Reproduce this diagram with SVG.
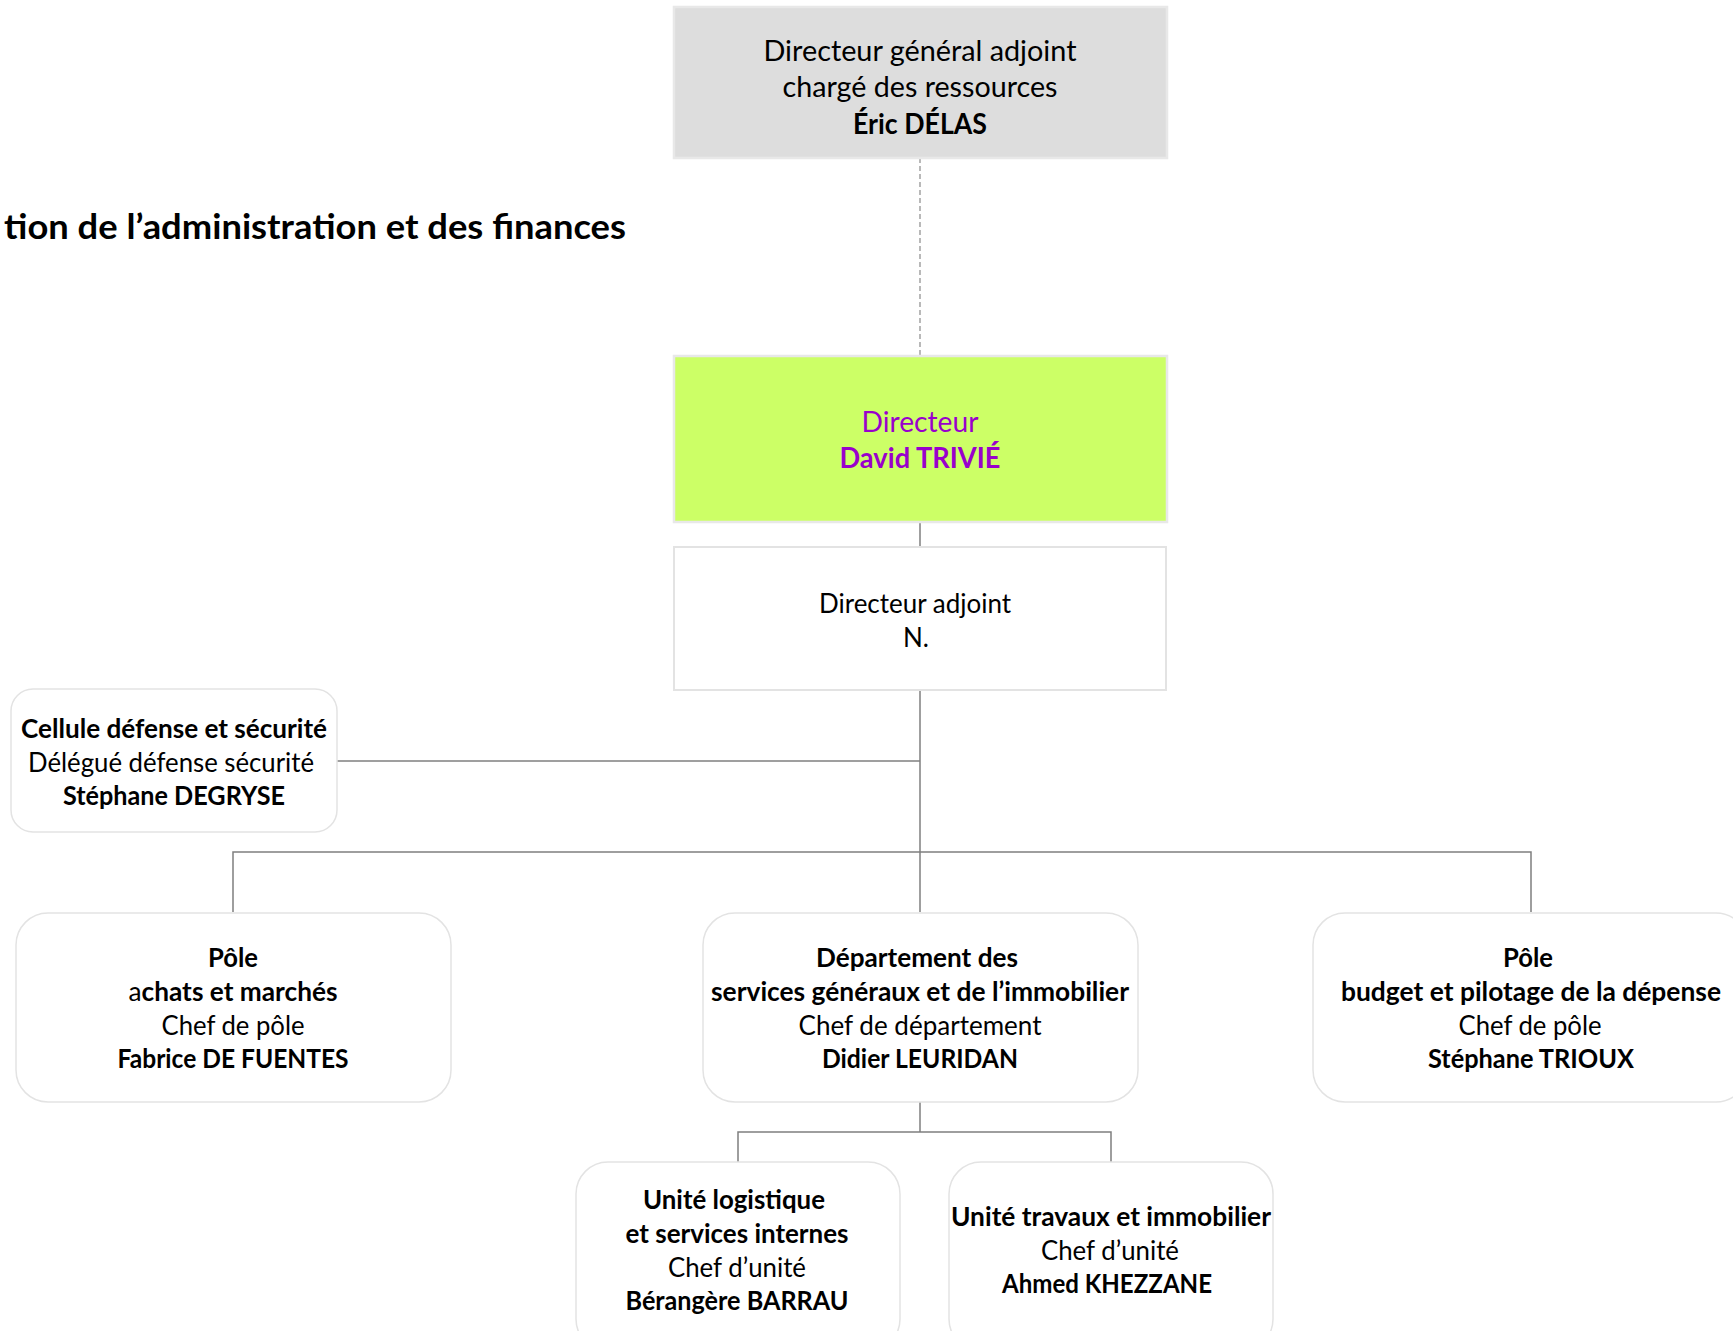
<svg xmlns="http://www.w3.org/2000/svg" width="1733" height="1331" viewBox="0 0 1733 1331">
<style>
text{font-family:Lato,"Open Sans","Liberation Sans",sans-serif;text-anchor:middle;fill:#000}
.s29{font-size:28px}
.s28{font-size:26px}
.b{font-weight:bold}
.n{font-weight:normal}
.p{fill:#9900cc}
.box{fill:#fff;stroke:#e3e3e3;stroke-width:2}
.rbox{fill:#fff;stroke:#e3e3e3;stroke-width:1.5}
.c{stroke:#7f7f7f;stroke-width:1.5;fill:none}
.d{stroke:#8a8a8a;stroke-width:1.2;fill:none;stroke-dasharray:5 3}
</style>
<rect width="1733" height="1331" fill="#fff"/>
<text id="title" x="626" y="239" class="b" style="font-size:35px;text-anchor:end" textLength="622" lengthAdjust="spacingAndGlyphs">tion de l’administration et des finances</text>
<g id="connectors">
<line class="d" x1="920" y1="158" x2="920" y2="356"/>
<line class="c" x1="920" y1="522" x2="920" y2="547"/>
<line class="c" x1="920" y1="690" x2="920" y2="912"/>
<line class="c" x1="337" y1="761" x2="920" y2="761"/>
<polyline class="c" points="233,912 233,852 1531,852 1531,912"/>
<line class="c" x1="920" y1="1102" x2="920" y2="1132"/>
<polyline class="c" points="738,1162 738,1132 1111,1132 1111,1162"/>
</g>
<g id="dga">
<rect x="674" y="7" width="493" height="151" fill="#dddddd" stroke="#e8e8e8" stroke-width="2.5"/>
<text class="s29" x="920" y="61" textLength="313" lengthAdjust="spacingAndGlyphs">Directeur général adjoint</text>
<text class="s29" x="920" y="97" textLength="275" lengthAdjust="spacingAndGlyphs">chargé des ressources</text>
<text class="s29 b" x="920" y="134" textLength="134" lengthAdjust="spacingAndGlyphs">Éric DÉLAS</text>
</g>
<g id="directeur">
<rect x="674" y="356" width="493" height="166" fill="#ccff66" stroke="#e8e8e8" stroke-width="2.5"/>
<text class="s29 p" x="920" y="432" textLength="117" lengthAdjust="spacingAndGlyphs">Directeur</text>
<text class="s29 b p" x="920" y="468" textLength="161" lengthAdjust="spacingAndGlyphs">David TRIVIÉ</text>
</g>
<g id="adjoint">
<rect class="box" x="674" y="547" width="492" height="143"/>
<text class="s28" x="915" y="613" textLength="192" lengthAdjust="spacingAndGlyphs">Directeur adjoint</text>
<text class="s28" x="916" y="647">N.</text>
</g>
<g id="cellule">
<rect class="rbox" x="11" y="689" width="326" height="143" rx="22"/>
<text class="s28 b" x="174" y="738" textLength="306" lengthAdjust="spacingAndGlyphs">Cellule défense et sécurité</text>
<text class="s28" x="171" y="772" textLength="286" lengthAdjust="spacingAndGlyphs">Délégué défense sécurité</text>
<text class="s28 b" x="174" y="805" textLength="222" lengthAdjust="spacingAndGlyphs">Stéphane DEGRYSE</text>
</g>
<g id="achats">
<rect class="rbox" x="16" y="913" width="435" height="189" rx="32"/>
<text class="s28 b" x="233" y="967" textLength="50" lengthAdjust="spacingAndGlyphs">Pôle</text>
<text class="s28 b" x="233" y="1001" textLength="209" lengthAdjust="spacingAndGlyphs"><tspan class="n">a</tspan>chats et marchés</text>
<text class="s28" x="233" y="1035" textLength="143" lengthAdjust="spacingAndGlyphs">Chef de pôle</text>
<text class="s28 b" x="233" y="1068" textLength="231" lengthAdjust="spacingAndGlyphs">Fabrice DE FUENTES</text>
</g>
<g id="departement">
<rect class="rbox" x="703" y="913" width="435" height="189" rx="32"/>
<text class="s28 b" x="917" y="967" textLength="202" lengthAdjust="spacingAndGlyphs">Département des</text>
<text class="s28 b" x="920" y="1001" textLength="418" lengthAdjust="spacingAndGlyphs">services généraux et de l’immobilier</text>
<text class="s28" x="920" y="1035" textLength="243" lengthAdjust="spacingAndGlyphs">Chef de département</text>
<text class="s28 b" x="920" y="1068" textLength="196" lengthAdjust="spacingAndGlyphs">Didier LEURIDAN</text>
</g>
<g id="budget">
<rect class="rbox" x="1313" y="913" width="435" height="189" rx="32"/>
<text class="s28 b" x="1528" y="967" textLength="50" lengthAdjust="spacingAndGlyphs">Pôle</text>
<text class="s28 b" x="1531" y="1001" textLength="380" lengthAdjust="spacingAndGlyphs">budget et pilotage de la dépense</text>
<text class="s28" x="1530" y="1035" textLength="143" lengthAdjust="spacingAndGlyphs">Chef de pôle</text>
<text class="s28 b" x="1531" y="1068" textLength="206" lengthAdjust="spacingAndGlyphs">Stéphane TRIOUX</text>
</g>
<g id="logistique">
<rect class="rbox" x="576" y="1162" width="324" height="189" rx="32"/>
<text class="s28 b" x="734" y="1209" textLength="182" lengthAdjust="spacingAndGlyphs">Unité logistique</text>
<text class="s28 b" x="737" y="1243" textLength="223" lengthAdjust="spacingAndGlyphs">et services internes</text>
<text class="s28" x="737" y="1277" textLength="138" lengthAdjust="spacingAndGlyphs">Chef d’unité</text>
<text class="s28 b" x="737" y="1310" textLength="223" lengthAdjust="spacingAndGlyphs">Bérangère BARRAU</text>
</g>
<g id="travaux">
<rect class="rbox" x="949" y="1162" width="324" height="189" rx="32"/>
<text class="s28 b" x="1111" y="1226" textLength="320" lengthAdjust="spacingAndGlyphs">Unité travaux et immobilier</text>
<text class="s28" x="1110" y="1260" textLength="138" lengthAdjust="spacingAndGlyphs">Chef d’unité</text>
<text class="s28 b" x="1107" y="1293" textLength="210" lengthAdjust="spacingAndGlyphs">Ahmed KHEZZANE</text>
</g>
</svg>
